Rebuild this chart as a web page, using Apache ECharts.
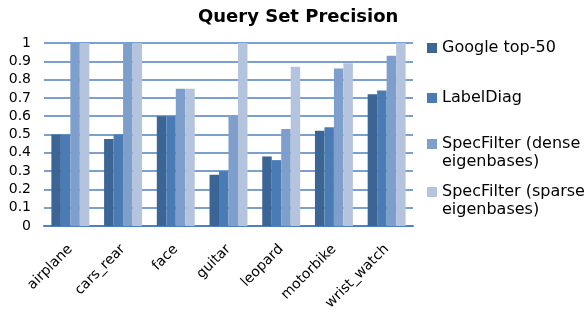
<!DOCTYPE html>
<html>
<head>
<meta charset="utf-8">
<script src="https://cdn.jsdelivr.net/npm/echarts@6/dist/echarts.min.js"></script>
<style>
  html, body { margin: 0; padding: 0; background: #fff; }
  #chart { width: 587px; height: 320px; }
</style>
</head>
<body>
<div id="chart"></div>
<script>
const categories = ['airplane', 'cars_rear', 'face', 'guitar', 'leopard', 'motorbike', 'wrist_watch'];
const seriesNames = ['Google top-50', 'LabelDiag', 'SpecFilter (dense\neigenbases)', 'SpecFilter (sparse\neigenbases)'];
const googleTop50 = [0.50, 0.475, 0.60, 0.28, 0.38, 0.52, 0.72];
const labelDiag   = [0.50, 0.50, 0.60, 0.30, 0.36, 0.54, 0.74];
const specDense   = [1.00, 1.00, 0.75, 0.60, 0.53, 0.86, 0.93];
const specSparse  = [1.00, 1.00, 0.75, 1.00, 0.87, 0.89, 1.00];
const yTicks = [0, 0.1, 0.2, 0.3, 0.4, 0.5, 0.6, 0.7, 0.8, 0.9, 1];

const values = [googleTop50, labelDiag, specDense, specSparse];
const colors = ['#3B6595', '#4A7BB5', '#7E9FCB', '#B5C4DE'];
const font = 'Verdana, "DejaVu Sans", sans-serif';

// one legend block per series so each entry sits at its own height;
// two-line names get an empty leading line so the swatch lines up with the first line
const legendTops = [34, 84, 112, 160];
const legends = seriesNames.map((name, i) => ({
  data: [name],
  orient: 'vertical',
  left: 422,
  top: legendTops[i],
  itemWidth: 10,
  itemHeight: 10,
  icon: 'rect',
  selectedMode: false,
  formatter: n => (n.indexOf('\n') >= 0 ? '\n' + n : n),
  textStyle: {
    fontFamily: font,
    fontSize: 16,
    color: '#000',
    lineHeight: 18
  }
}));

const chart = echarts.init(document.getElementById('chart'));
chart.setOption({
  animation: false,
  title: {
    text: 'Query Set Precision',
    left: 193,
    top: 3,
    textStyle: { fontFamily: font, fontSize: 18, fontWeight: 'bold', color: '#000' }
  },
  legend: legends,
  grid: { left: 44, right: 174, top: 43, bottom: 94 },
  xAxis: {
    type: 'category',
    data: categories,
    axisLine: { lineStyle: { color: '#4F81BD', width: 2 } },
    axisTick: { alignWithLabel: true, length: 5, lineStyle: { color: '#4F81BD', width: 2 } },
    axisLabel: {
      rotate: 45,
      fontFamily: font,
      fontSize: 14,
      color: '#000',
      margin: 21
    }
  },
  yAxis: {
    type: 'value',
    min: yTicks[0],
    max: yTicks[yTicks.length - 1],
    interval: 0.1,
    axisLine: { show: false },
    axisTick: { show: false },
    splitLine: { lineStyle: { color: '#4F81BD', width: 1.5 } },
    axisLabel: {
      fontFamily: font,
      fontSize: 14,
      color: '#000',
      margin: 13,
      formatter: v => String(Math.round(v * 10) / 10)
    }
  },
  series: values.map((arr, i) => ({
    name: seriesNames[i],
    type: 'bar',
    data: arr,
    barGap: '0%',
    barCategoryGap: '28%',
    itemStyle: { color: colors[i] }
  }))
});
</script>
</body>
</html>
